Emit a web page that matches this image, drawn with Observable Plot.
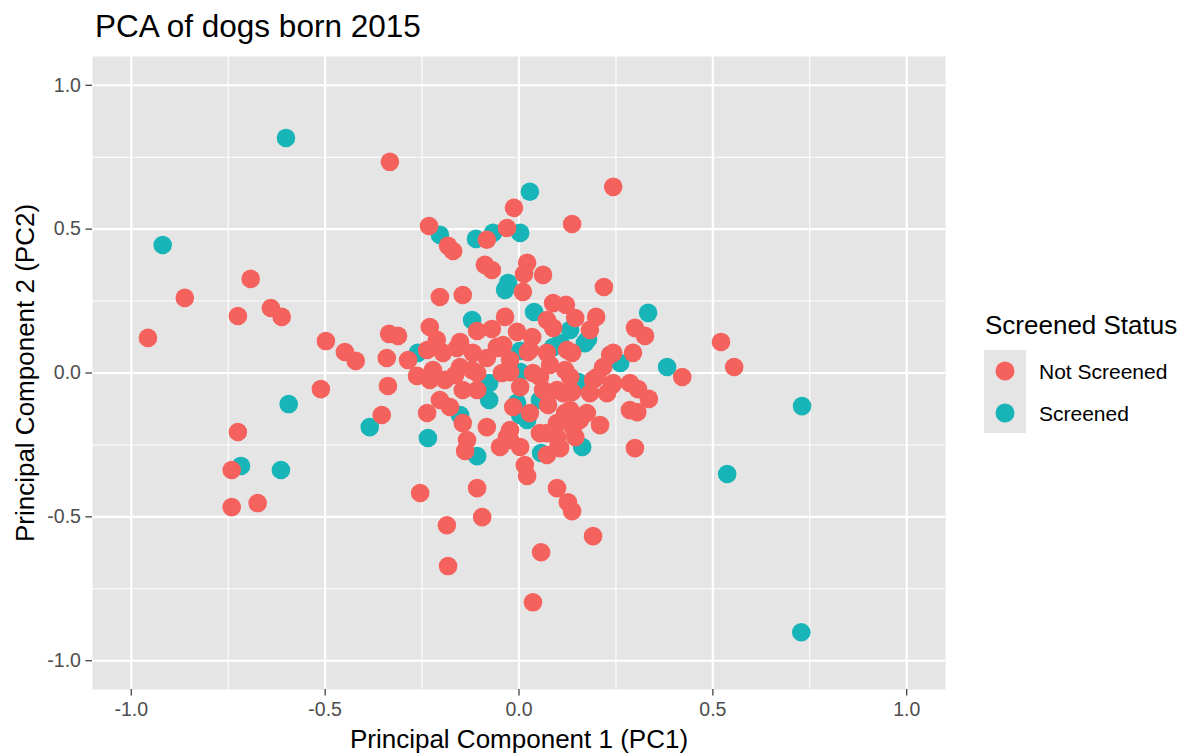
<!DOCTYPE html>
<html>
<head>
<meta charset="utf-8">
<script src="https://cdn.jsdelivr.net/npm/d3@7"></script>
<script src="https://cdn.jsdelivr.net/npm/@observablehq/plot@0.6"></script>
<style>
  body { margin: 0; background: #fff; }
  #wrap { position: relative; width: 1187px; height: 753px; background: #fff;
          font-family: "Liberation Sans", Arial, Helvetica, sans-serif; }
  #title { position: absolute; left: 95px; top: 11px; font-size: 31.5px; line-height: 1; color: #000; white-space: nowrap; }
  #chart { position: absolute; left: 0; top: 0; }
  #legend { position: absolute; left: 0; top: 0; }
</style>
</head>
<body>
<div id="wrap">
  <div id="chart"></div>
  <div id="title"></div>
  <div id="legend"></div>
</div>
<script>
// ---- data ----
const chartTitle = "PCA of dogs born 2015";
const xTitle = "Principal Component 1 (PC1)";
const yTitle = "Principal Component 2 (PC2)";
const legendTitle = "Screened Status";
const statusLabels = ["Not Screened", "Screened"];
const statusColors = ["#F5625D", "#17B4B8"];

const xTicks = [-1.0, -0.5, 0.0, 0.5, 1.0];
const yTicks = [-1.0, -0.5, 0.0, 0.5, 1.0];
const xMinor = [-0.75, -0.25, 0.25, 0.75];
const yMinor = [-0.75, -0.25, 0.25, 0.75];

const screenedPC1 = [-0.601, -0.919, -0.594, -0.717, -0.614, -0.385, 0.730, 0.537, 0.728, 0.382,
  0.333, 0.261, 0.028, -0.067, -0.204, -0.111, 0.003, -0.028, -0.036, -0.121,
  0.039, 0.132, 0.178, 0.152, 0.163, 0.057, -0.108, -0.235, -0.152, -0.077,
  -0.077, -0.005, 0.003, 0.021, -0.261, 0.003, 0.003, 0.054, 0.106, 0.170, 0.088];
const screenedPC2 = [0.817, 0.445, -0.108, -0.323, -0.337, -0.188, -0.115, -0.351, -0.901, 0.021,
  0.209, 0.035, 0.630, 0.487, 0.480, 0.466, 0.487, 0.313, 0.289, 0.184,
  0.212, 0.150, 0.118, -0.031, -0.257, -0.278, -0.289, -0.226, -0.146, -0.035,
  -0.094, -0.104, -0.146, -0.163, 0.070, 0.077, 0.003, -0.094, 0.104, 0.104, 0.090];

const notScreenedPC1 = [-0.957, -0.862, -0.725, -0.692, -0.640, -0.612, -0.498, -0.449, -0.421, -0.511,
  -0.725, -0.741, -0.741, -0.674, -0.333, -0.232, -0.183, -0.170, -0.083, -0.013,
  -0.031, 0.137, 0.243, 0.219, 0.521, 0.555, 0.421, 0.325, 0.299, 0.294,
  0.307, 0.335, 0.305, 0.299, 0.191, 0.137, 0.126, 0.098, 0.057, 0.036,
  -0.186, -0.183, -0.255, -0.108, -0.095, 0.015, 0.021, -0.335, -0.312, -0.341,
  -0.338, -0.354, -0.204, -0.145, -0.088, -0.070, 0.021, 0.062, 0.013, 0.010,
  0.088, 0.121, 0.072, 0.145, 0.199, 0.088, 0.183, -0.005, 0.034, -0.036,
  -0.054, -0.083, -0.108, -0.070, -0.230, -0.212, -0.152, -0.286, -0.196, -0.121,
  -0.165, -0.191, -0.230, -0.263, -0.237, -0.160, -0.119, -0.057, -0.023, -0.222,
  -0.152, -0.108, -0.044, -0.145, -0.108, -0.204, -0.178, -0.237, -0.145, -0.083,
  -0.023, -0.134, -0.023, -0.049, 0.003, -0.139, 0.072, 0.106, -0.041, 0.023,
  0.137, 0.235, 0.217, 0.191, 0.240, 0.080, 0.119, 0.054, -0.023, 0.003,
  0.098, 0.137, 0.183, 0.209, 0.157, 0.119, 0.075, -0.015, -0.031, 0.072,
  0.101, 0.145, 0.028, 0.072, 0.124, 0.243, 0.036, 0.132, 0.201, 0.243,
  0.062, 0.114, 0.227, 0.132, 0.175, 0.028, 0.098, 0.139, 0.054, 0.098,
  0.286, 0.286];
const notScreenedPC2 = [0.122, 0.261, 0.198, 0.327, 0.226, 0.195, 0.111, 0.073, 0.042, -0.056,
  -0.205, -0.337, -0.466, -0.452, 0.734, 0.511, 0.442, 0.424, 0.463, 0.574,
  0.504, 0.518, 0.647, 0.299, 0.108, 0.021, -0.014, 0.129, 0.157, 0.070,
  -0.056, -0.090, -0.136, -0.261, -0.567, -0.480, -0.449, -0.400, -0.623, -0.797,
  -0.529, -0.671, -0.417, -0.400, -0.501, -0.320, -0.358, 0.136, 0.129, 0.052,
  -0.045, -0.146, 0.264, 0.271, 0.376, 0.358, 0.383, 0.341, 0.344, 0.282,
  0.243, 0.237, 0.184, 0.191, 0.195, 0.157, 0.150, 0.143, 0.125, 0.195,
  0.087, 0.052, 0.146, 0.153, 0.160, 0.115, 0.108, 0.045, 0.070, 0.010,
  -0.007, -0.024, -0.024, -0.010, 0.080, 0.087, 0.070, 0.090, 0.045, 0.010,
  0.021, 0.000, 0.000, -0.059, -0.059, -0.094, -0.118, -0.139, -0.174, -0.188,
  -0.198, -0.233, -0.233, -0.257, -0.257, -0.271, -0.285, -0.261, 0.097, 0.073,
  0.070, 0.063, 0.021, -0.024, -0.042, 0.028, 0.010, -0.014, 0.003, -0.049,
  -0.059, -0.066, -0.070, -0.181, -0.163, -0.139, -0.111, -0.118, -0.223, -0.209,
  -0.257, -0.223, 0.080, 0.070, 0.080, 0.070, 0.000, -0.014, -0.014, -0.035,
  -0.059, -0.070, -0.070, -0.129, -0.139, -0.139, -0.174, -0.188, -0.209, -0.223,
  -0.035, -0.129];

// ---- build table ----
const points = [
  ...screenedPC1.map((v, i) => ({pc1: v, pc2: screenedPC2[i], status: statusLabels[1]})),
  ...notScreenedPC1.map((v, i) => ({pc1: v, pc2: notScreenedPC2[i], status: statusLabels[0]}))
];

const fontFamily = '"Liberation Sans", Arial, Helvetica, sans-serif';

const plot = Plot.plot({
  width: 960,
  height: 753,
  marginTop: 56,
  marginBottom: 64,
  marginLeft: 92,
  marginRight: 15,
  x: {domain: [-1.1, 1.1]},
  y: {domain: [-1.1, 1.1]},
  color: {domain: statusLabels, range: statusColors},
  style: {fontFamily, background: "transparent", overflow: "visible"},
  marks: [
    Plot.frame({fill: "#E5E5E5", stroke: "none"}),
    Plot.gridX(xMinor, {stroke: "#fff", strokeOpacity: 1, strokeWidth: 1.1}),
    Plot.gridY(yMinor, {stroke: "#fff", strokeOpacity: 1, strokeWidth: 1.1}),
    Plot.gridX(xTicks, {stroke: "#fff", strokeOpacity: 1, strokeWidth: 2.2}),
    Plot.gridY(yTicks, {stroke: "#fff", strokeOpacity: 1, strokeWidth: 2.2}),
    Plot.dot(points, {x: "pc1", y: "pc2", fill: "status", r: 9.3}),
    Plot.axisX(xTicks, {tickFormat: d => d.toFixed(1), tickSize: 6.6, tickPadding: 6, fontSize: 19.5,
      fill: "#4D4D4D", stroke: "#333", strokeWidth: 1.2, label: null}),
    Plot.axisY(yTicks, {tickFormat: d => d.toFixed(1), tickSize: 6.6, tickPadding: 5, fontSize: 19.5,
      fill: "#4D4D4D", stroke: "#333", strokeWidth: 1.2, label: null}),
    Plot.text([xTitle], {text: d => d, frameAnchor: "bottom", dy: 50, fontSize: 26, fill: "#000", lineAnchor: "middle"}),
    Plot.text([yTitle], {text: d => d, frameAnchor: "left", dx: -67, rotate: -90, fontSize: 26, fill: "#000",
      lineAnchor: "middle", textAnchor: "middle"})
  ]
});
document.getElementById("chart").appendChild(plot);
document.getElementById("title").textContent = chartTitle;

// ---- legend (uses the plot's color scale) ----
const color = plot.scale("color");
const lg = d3.create("svg").attr("width", 1187).attr("height", 753)
  .style("font-family", fontFamily).style("overflow", "visible");
lg.append("text").attr("x", 985).attr("y", 334).attr("font-size", 26).attr("fill", "#000").text(legendTitle);
lg.append("rect").attr("x", 984).attr("y", 350).attr("width", 42).attr("height", 83).attr("fill", "#E5E5E5");
color.domain.forEach((label, i) => {
  const cy = 371 + i * 42;
  lg.append("circle").attr("cx", 1005).attr("cy", cy).attr("r", 9.5).attr("fill", color.range[i]);
  lg.append("text").attr("x", 1039).attr("y", cy + 8).attr("font-size", 21).attr("fill", "#000").text(label);
});
document.getElementById("legend").appendChild(lg.node());
</script>
</body>
</html>
